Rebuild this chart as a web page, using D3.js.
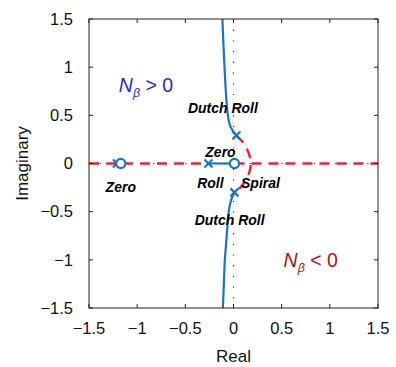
<!DOCTYPE html>
<html>
<head>
<meta charset="utf-8">
<script src="https://cdn.jsdelivr.net/npm/d3@7"></script>
<style>
  body { margin: 0; background: #fff; }
  svg { display: block; font-family: "Liberation Sans", Arial, Helvetica, sans-serif; }
</style>
</head>
<body>
<svg id="chart" width="396" height="367"></svg>
<script>
// Axis ticks
const xTicks = [-1.5, -1, -0.5, 0, 0.5, 1, 1.5];
const yTicks = [-1.5, -1, -0.5, 0, 0.5, 1, 1.5];

// Open-loop poles and zeros [real, imag]
const poles = [[0.03, 0.29], [0.01, -0.30], [-0.26, 0], [-1.21, 0]];
const zeros = [[0.01, 0], [-1.17, 0]];

// Root locus branches for N_beta > 0 (solid blue)
const posUpper = [[0.03, 0.29], [0.0, 0.33], [-0.03, 0.38], [-0.05, 0.45], [-0.065, 0.56], [-0.08, 0.75], [-0.093, 1.0], [-0.105, 1.25], [-0.115, 1.5]];
const posLower = [[0.01, -0.30], [-0.01, -0.34], [-0.03, -0.40], [-0.05, -0.5], [-0.063, -0.65], [-0.078, -0.85], [-0.09, -1.0], [-0.1, -1.25], [-0.11, -1.5]];
const posReal = [[-0.26, 0], [0.01, 0]];

// Root locus branches for N_beta < 0 (dashed red)
const negArc = [[0.03, 0.29], [0.09, 0.23], [0.14, 0.15], [0.17, 0.07], [0.18, 0], [0.17, -0.07], [0.14, -0.15], [0.08, -0.24], [0.01, -0.30]];
const negLeft = [[-1.5, 0], [-0.26, 0]];
const negRight = [[0.01, 0], [1.5, 0]];

// Mode labels: [text, real, imag]
const modeLabels = [
  ["Dutch Roll", -0.11, 0.52],
  ["Zero", -0.135, 0.07],
  ["Zero", -1.17, -0.3],
  ["Roll", -0.24, -0.25],
  ["Spiral", 0.28, -0.25],
  ["Dutch Roll", -0.04, -0.64]
];

const blue = "#1874c4";
const red = "#e52630";

const svg = d3.select("#chart");
const plotL = 89, plotR = 378, plotT = 19, plotB = 308;

const x = d3.scaleLinear().domain([-1.5, 1.5]).range([plotL, plotR]);
const y = d3.scaleLinear().domain([-1.5, 1.5]).range([plotB, plotT]);

const fmt = d => String(d).replace("-", "\u2212");

// Dotted zero lines
svg.append("line")
  .attr("x1", x(0)).attr("x2", x(0)).attr("y1", plotT).attr("y2", plotB)
  .attr("stroke", "#333").attr("stroke-width", 1.2).attr("stroke-dasharray", "1.2,9.5");
svg.append("line")
  .attr("x1", plotL).attr("x2", plotR).attr("y1", y(0)).attr("y2", y(0))
  .attr("stroke", "#333").attr("stroke-width", 1.2).attr("stroke-dasharray", "1.2,9.5");

const line = d3.line().x(d => x(d[0])).y(d => y(d[1]));
const smooth = d3.line().x(d => x(d[0])).y(d => y(d[1])).curve(d3.curveCatmullRom);

// Negative-gain loci
[negLeft, negRight].forEach(seg => {
  svg.append("path").attr("d", line(seg))
    .attr("fill", "none").attr("stroke", red).attr("stroke-width", 2.5)
    .attr("stroke-dasharray", "10,7");
});
svg.append("path").attr("d", smooth(negArc))
  .attr("fill", "none").attr("stroke", red).attr("stroke-width", 2.5)
  .attr("stroke-dasharray", "10,7");

// Positive-gain loci
[posUpper, posLower].forEach(seg => {
  svg.append("path").attr("d", smooth(seg))
    .attr("fill", "none").attr("stroke", blue).attr("stroke-width", 2.2);
});
svg.append("path").attr("d", line(posReal))
  .attr("fill", "none").attr("stroke", blue).attr("stroke-width", 2.2);

// Poles
const s = 4;
poles.forEach(p => {
  const cx = x(p[0]), cy = y(p[1]);
  svg.append("path")
    .attr("d", `M${cx - s},${cy - s}L${cx + s},${cy + s}M${cx - s},${cy + s}L${cx + s},${cy - s}`)
    .attr("stroke", blue).attr("stroke-width", 2.2).attr("fill", "none");
});
// Zeros
zeros.forEach(z => {
  svg.append("circle").attr("cx", x(z[0])).attr("cy", y(z[1])).attr("r", 4.6)
    .attr("fill", "#fff").attr("stroke", blue).attr("stroke-width", 2.2);
});

// Frame and inward ticks
svg.append("rect").attr("x", plotL).attr("y", plotT)
  .attr("width", plotR - plotL).attr("height", plotB - plotT)
  .attr("fill", "none").attr("stroke", "#222").attr("stroke-width", 1);

const tl = 4;
xTicks.forEach(t => {
  svg.append("line").attr("x1", x(t)).attr("x2", x(t)).attr("y1", plotB).attr("y2", plotB - tl).attr("stroke", "#222");
  svg.append("line").attr("x1", x(t)).attr("x2", x(t)).attr("y1", plotT).attr("y2", plotT + tl).attr("stroke", "#222");
  svg.append("text").attr("x", x(t)).attr("y", plotB + 26)
    .attr("text-anchor", "middle").attr("font-size", 16.5).attr("fill", "#111").text(fmt(t));
});
yTicks.forEach(t => {
  svg.append("line").attr("x1", plotL).attr("x2", plotL + tl).attr("y1", y(t)).attr("y2", y(t)).attr("stroke", "#222");
  svg.append("line").attr("x1", plotR).attr("x2", plotR - tl).attr("y1", y(t)).attr("y2", y(t)).attr("stroke", "#222");
  svg.append("text").attr("x", plotL - 16).attr("y", y(t)).attr("dy", "0.35em")
    .attr("text-anchor", "end").attr("font-size", 16.5).attr("fill", "#111").text(fmt(t));
});

// Axis titles
svg.append("text").attr("x", (plotL + plotR) / 2).attr("y", 362)
  .attr("text-anchor", "middle").attr("font-size", 17).attr("fill", "#111").text("Real");
svg.append("text").attr("transform", `translate(28,${(plotT + plotB) / 2}) rotate(-90)`)
  .attr("text-anchor", "middle").attr("font-size", 17).attr("fill", "#111").text("Imaginary");

// Mode labels
modeLabels.forEach(([txt, re, im]) => {
  svg.append("text").attr("x", x(re)).attr("y", y(im))
    .attr("text-anchor", "middle").attr("font-size", 14)
    .attr("font-weight", "bold").attr("font-style", "italic").attr("fill", "#000").text(txt);
});

// Gain sign annotations
function gainLabel(px, py, op, color) {
  const t = svg.append("text").attr("x", px).attr("y", py)
    .attr("font-size", 19.5).attr("fill", color);
  t.append("tspan").attr("font-style", "italic").text("N");
  t.append("tspan").attr("font-style", "italic").attr("font-size", 12.5).attr("dy", 5).text("\u03b2");
  t.append("tspan").attr("dy", -5).text(" " + op + " 0");
}
gainLabel(x(-1.19), y(0.74), ">", "#2b2bd0");
gainLabel(x(0.52), y(-1.07), "<", "#a8141c");
</script>
</body>
</html>
